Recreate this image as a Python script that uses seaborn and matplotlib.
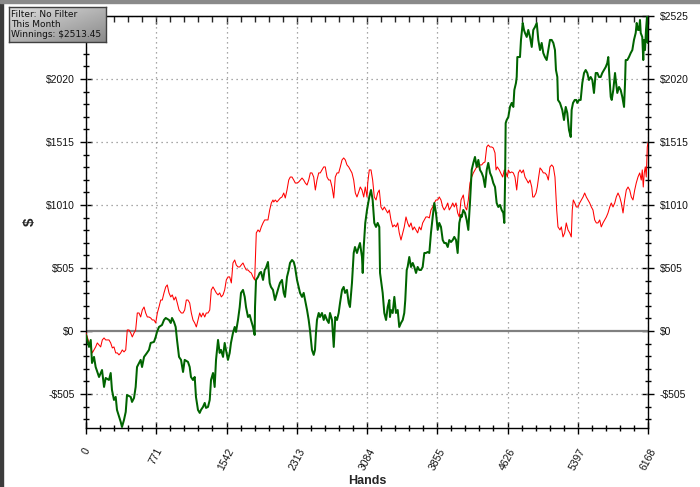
import numpy as np
import pandas as pd
import matplotlib
matplotlib.use("Agg")
import matplotlib.pyplot as plt
import seaborn as sns
from matplotlib.ticker import MultipleLocator, FixedLocator, FuncFormatter
from matplotlib.colors import LinearSegmentedColormap
from matplotlib.patches import Rectangle

# ---------------- data ----------------
won_hands = [0, 33, 52, 66, 88, 106, 143, 176, 198, 216, 252, 271, 285, 307, 326, 340, 381, 395, 417, 436,
             450, 491, 505, 527, 545, 560, 600, 615, 637, 669, 691, 710, 746, 765, 779, 801, 834, 856, 875, 911,
             930, 944, 966, 984, 999, 1021, 1043, 1065, 1083, 1119, 1138, 1152, 1174, 1193, 1207, 1229, 1248, 1262, 1284, 1303,
             1317, 1339, 1358, 1372, 1394, 1412, 1427, 1449, 1467, 1482, 1504, 1522, 1536, 1558, 1577, 1591, 1613, 1632, 1646, 1668,
             1687, 1701, 1723, 1742, 1756, 1778, 1797, 1811, 1833, 1851, 1855, 1866, 1888, 1906, 1921, 1943, 1961, 1975, 1997, 2016,
             2030, 2052, 2074, 2096, 2115, 2129, 2151, 2170, 2184, 2206, 2225, 2239, 2261, 2280, 2294, 2316, 2334, 2349, 2371, 2389,
             2404, 2426, 2444, 2458, 2469, 2480, 2499, 2513, 2524, 2535, 2554, 2568, 2590, 2609, 2623, 2645, 2664, 2678, 2700, 2719,
             2730, 2736, 2755, 2773, 2788, 2810, 2828, 2843, 2864, 2883, 2897, 2919, 2938, 2952, 2974, 2993, 3007, 3029, 3037, 3048,
             3065, 3084, 3109, 3128, 3146, 3164, 3183, 3201, 3219, 3227, 3237, 3256, 3274, 3293, 3311, 3329, 3336, 3347, 3366, 3384,
             3402, 3421, 3438, 3457, 3476, 3493, 3504, 3520, 3530, 3548, 3567, 3586, 3603, 3622, 3640, 3658, 3677, 3695, 3713, 3731,
             3750, 3768, 3786, 3805, 3823, 3841, 3860, 3877, 3896, 3915, 3932, 3951, 3970, 3987, 4006, 4025, 4042, 4061, 4079, 4097,
             4116, 4123, 4141, 4160, 4178, 4196, 4214, 4233, 4251, 4269, 4288, 4306, 4324, 4343, 4360, 4379, 4398, 4415, 4434, 4453,
             4470, 4489, 4507, 4525, 4544, 4562, 4580, 4591, 4599, 4606, 4617, 4635, 4653, 4672, 4690, 4701, 4719, 4727, 4734, 4763,
             4774, 4793, 4807, 4818, 4837, 4854, 4873, 4892, 4909, 4928, 4947, 4964, 4983, 5001, 5019, 5037, 5056, 5074, 5092, 5111,
             5129, 5147, 5158, 5173, 5180, 5202, 5227, 5246, 5265, 5282, 5301, 5320, 5330, 5345, 5364, 5381, 5392, 5411, 5429, 5447,
             5466, 5484, 5502, 5520, 5539, 5557, 5575, 5594, 5612, 5630, 5649, 5666, 5685, 5704, 5721, 5732, 5740, 5759, 5770, 5787,
             5806, 5814, 5831, 5850, 5868, 5886, 5905, 5916, 5923, 5941, 5959, 5978, 5996, 6014, 6033, 6044, 6058, 6069, 6080, 6088,
             6105, 6116, 6124, 6135, 6146, 6157, 6165, 6168]
won_dollars = [-32, -128, -72, -257, -208, -289, -369, -313, -449, -377, -393, -337, -473, -553, -529, -633, -729, -770, -713, -649,
               -513, -529, -569, -537, -449, -289, -232, -289, -208, -176, -152, -96, -88, -48, -8, 32, 48, 88, 104, 88,
               64, 104, 72, 32, -72, -208, -232, -329, -232, -248, -289, -369, -393, -369, -529, -633, -657, -633, -609, -577,
               -617, -609, -553, -393, -337, -449, -232, -72, -176, -152, -208, -96, -152, -232, -176, -96, -16, 32, -8, 88,
               192, 305, 329, 273, 192, 112, 128, 88, 32, -32, 192, 409, 433, 465, 473, 409, 489, 505, 553, 385,
               353, 329, 248, 305, 353, 385, 409, 305, 273, 433, 489, 545, 569, 553, 513, 409, 353, 305, 273, 305,
               248, 168, 88, 8, -72, -152, -192, -152, -16, 88, 144, 112, 144, 88, 128, 88, 64, 144, 88, -128,
               32, 112, 88, 144, 224, 329, 353, 305, 329, 224, 192, 385, 625, 673, 625, 673, 705, 593, 465, 673,
               866, 970, 1074, 1130, 1050, 866, 834, 866, 834, 465, 409, 305, 144, 88, 192, 248, 112, 168, 144, 273,
               144, 168, 32, 64, 88, 144, 248, 489, 513, 593, 513, 545, 513, 465, 513, 489, 489, 513, 625, 625,
               633, 625, 786, 914, 1026, 946, 810, 866, 834, 729, 705, 705, 673, 729, 713, 729, 754, 729, 625, 866,
               930, 914, 970, 946, 890, 810, 1026, 1291, 1347, 1395, 1315, 1371, 1291, 1267, 1234, 1154, 1291, 1347, 1267, 1234,
               1186, 1154, 1026, 994, 1010, 970, 946, 866, 1186, 1667, 1691, 1715, 1796, 1828, 1796, 1932, 1988, 2036, 2196, 2196,
               2333, 2469, 2413, 2389, 2357, 2413, 2357, 2277, 2413, 2437, 2469, 2333, 2252, 2309, 2228, 2196, 2172, 2252, 2333, 2333,
               2309, 2252, 2092, 2036, 1852, 1828, 1772, 1691, 1796, 1748, 1611, 1555, 1772, 1828, 1852, 1852, 1828, 1852, 1852, 1988,
               2068, 2092, 2068, 2012, 2036, 2012, 1908, 2068, 2068, 2036, 2036, 2068, 2092, 2116, 2148, 2196, 2092, 1876, 1852, 1932,
               2068, 2012, 1908, 1956, 1932, 1876, 1796, 1988, 2172, 2172, 2196, 2228, 2252, 2333, 2389, 2469, 2413, 2413, 2493, 2389,
               2357, 2172, 2333, 2252, 2413, 2517, 2309, 2513.45]

ev_hands = [0, 14, 33, 52, 69, 88, 106, 124, 143, 161, 179, 198, 216, 234, 252, 271, 289, 307, 326, 344,
            362, 381, 398, 417, 436, 453, 472, 491, 508, 527, 545, 563, 582, 600, 618, 637, 655, 673, 691, 710,
            728, 746, 765, 783, 801, 820, 837, 856, 875, 892, 911, 930, 947, 966, 984, 1002, 1021, 1046, 1065, 1083,
            1101, 1119, 1138, 1156, 1174, 1193, 1211, 1229, 1248, 1265, 1284, 1303, 1320, 1339, 1358, 1375, 1394, 1412, 1430, 1449,
            1467, 1485, 1504, 1522, 1540, 1558, 1577, 1595, 1613, 1632, 1649, 1668, 1687, 1704, 1723, 1742, 1759, 1778, 1797, 1814,
            1833, 1851, 1869, 1888, 1906, 1924, 1943, 1961, 1979, 1997, 2016, 2034, 2052, 2060, 2078, 2096, 2115, 2133, 2151, 2170,
            2187, 2206, 2225, 2242, 2261, 2280, 2297, 2316, 2334, 2352, 2371, 2389, 2407, 2426, 2444, 2462, 2480, 2499, 2517, 2535,
            2554, 2571, 2590, 2609, 2626, 2645, 2664, 2681, 2700, 2719, 2736, 2755, 2773, 2791, 2810, 2828, 2846, 2864, 2883, 2901,
            2919, 2938, 2956, 2974, 2993, 3010, 3029, 3048, 3065, 3084, 3092, 3109, 3128, 3146, 3164, 3183, 3201, 3219, 3237, 3256,
            3274, 3293, 3311, 3329, 3347, 3366, 3384, 3402, 3421, 3438, 3457, 3476, 3493, 3512, 3530, 3548, 3567, 3586, 3603, 3622,
            3640, 3658, 3677, 3695, 3713, 3731, 3750, 3768, 3786, 3805, 3823, 3841, 3860, 3877, 3896, 3915, 3932, 3951, 3970, 3987,
            4006, 4025, 4042, 4061, 4079, 4097, 4116, 4141, 4160, 4178, 4196, 4214, 4233, 4251, 4269, 4288, 4306, 4324, 4343, 4360,
            4379, 4398, 4415, 4434, 4453, 4470, 4489, 4500, 4514, 4536, 4551, 4573, 4591, 4610, 4624, 4635, 4653, 4672, 4690, 4708,
            4727, 4745, 4763, 4782, 4800, 4818, 4837, 4854, 4873, 4892, 4903, 4917, 4939, 4953, 4968, 4983, 5001, 5019, 5037, 5056,
            5074, 5092, 5111, 5129, 5147, 5158, 5166, 5180, 5202, 5217, 5235, 5254, 5271, 5290, 5309, 5326, 5337, 5348, 5364, 5381,
            5400, 5418, 5436, 5455, 5473, 5491, 5509, 5528, 5546, 5564, 5583, 5601, 5619, 5638, 5655, 5674, 5693, 5711, 5729, 5748,
            5765, 5784, 5803, 5820, 5839, 5858, 5875, 5894, 5912, 5930, 5949, 5967, 5985, 6003, 6022, 6039, 6058, 6077, 6094, 6105,
            6116, 6127, 6138, 6149, 6160, 6168]
ev_dollars = [-16, -48, -96, -128, -176, -152, -128, -96, -112, -128, -72, -56, -72, -72, -72, -96, -136, -128, -176, -176,
              -192, -176, -152, -168, -152, 8, 8, -16, -48, -16, 8, 144, 144, 112, 168, 192, 144, 112, 112, 104,
              88, 88, 64, 144, 192, 248, 248, 305, 353, 369, 305, 273, 289, 248, 273, 224, 168, 144, 144, 168,
              248, 248, 224, 144, 88, 64, 32, 88, 144, 112, 144, 112, 144, 144, 168, 329, 353, 329, 305, 289,
              305, 273, 289, 329, 409, 433, 433, 385, 545, 569, 529, 513, 513, 529, 545, 513, 489, 489, 473, 465,
              433, 409, 786, 810, 794, 834, 866, 890, 890, 890, 970, 1026, 1050, 1034, 1050, 1034, 1050, 1066, 1074, 1106,
              1066, 1130, 1210, 1234, 1234, 1210, 1186, 1186, 1194, 1210, 1226, 1210, 1186, 1170, 1210, 1267, 1267, 1234, 1130, 1210,
              1267, 1267, 1291, 1315, 1315, 1234, 1210, 1210, 1154, 1066, 1234, 1267, 1267, 1315, 1371, 1387, 1371, 1331, 1315, 1291,
              1267, 1210, 1106, 1074, 1114, 1154, 1130, 1074, 1154, 1074, 1186, 1291, 1291, 1210, 1074, 1050, 1106, 1130, 994, 970,
              994, 970, 946, 970, 890, 834, 850, 834, 866, 786, 729, 786, 834, 914, 866, 834, 866, 810, 834, 810,
              786, 834, 810, 866, 890, 914, 914, 906, 970, 994, 1026, 1050, 1050, 1074, 1050, 994, 970, 994, 1026, 970,
              994, 1026, 994, 1026, 946, 914, 1050, 1090, 994, 970, 1050, 1186, 1234, 1267, 1291, 1315, 1315, 1331, 1331, 1347,
              1355, 1475, 1491, 1475, 1475, 1467, 1427, 1291, 1315, 1291, 1267, 1234, 1291, 1267, 1234, 1291, 1267, 1275, 1267, 1234,
              1130, 1267, 1291, 1267, 1291, 1234, 1210, 1186, 1210, 1154, 1074, 1074, 1106, 1154, 1234, 1307, 1291, 1267, 1267, 1251,
              1210, 1315, 1331, 1315, 1234, 1074, 970, 834, 810, 834, 754, 786, 866, 810, 786, 754, 970, 1050, 1026, 994,
              994, 1026, 1050, 1074, 1106, 1074, 1050, 1026, 994, 970, 890, 866, 866, 890, 834, 866, 890, 914, 946, 994,
              1026, 994, 1026, 1074, 1106, 1074, 1026, 946, 1050, 1130, 1154, 1130, 1074, 1050, 1130, 1186, 1234, 1267, 1210, 1291,
              1154, 1267, 1315, 1234, 1475, 1507]

y_ticks = [-505, 0, 505, 1010, 1515, 2020, 2525]
x_ticks = [0, 771, 1542, 2313, 3084, 3855, 4626, 5397, 6168]
info_lines = ["Filter: No Filter", "This Month", "Winnings: $2513.45"]

won_df = pd.DataFrame({"Hands": won_hands, "$": won_dollars})
ev_df = pd.DataFrame({"Hands": ev_hands, "$": ev_dollars})

# ---------------- figure ----------------
sns.set_style("white")
plt.rcParams["font.family"] = ["Liberation Sans", "DejaVu Sans"]

fig = plt.figure(figsize=(7.0, 4.87), dpi=100)
fig.patch.set_facecolor("white")
ax = fig.add_axes([86 / 700, 1 - 428 / 487, 562 / 700, 412 / 487])

# grid
for xv in x_ticks:
    ax.axvline(xv, color="#8c8c8c", lw=0.9, ls=(0, (1, 3)), zorder=1)
for yv in y_ticks:
    if yv != 0:
        ax.axhline(yv, color="#8c8c8c", lw=0.9, ls=(0, (1, 3)), zorder=1)
ax.axhline(0, color="#808080", lw=1.6, zorder=1.5)

sns.lineplot(data=ev_df, x="Hands", y="$", ax=ax, color="#ff0000", lw=0.75,
             estimator=None, sort=False, zorder=3)
sns.lineplot(data=won_df, x="Hands", y="$", ax=ax, color="#006400", lw=1.45,
             estimator=None, sort=False, zorder=4)

ax.set_xlim(0, 6168)
ax.set_ylim(-778, 2525)

ax.xaxis.set_major_locator(FixedLocator(x_ticks))
ax.xaxis.set_minor_locator(MultipleLocator(771 / 5))
ax.yaxis.set_major_locator(FixedLocator(y_ticks))
ax.yaxis.set_minor_locator(MultipleLocator(101))
ax.yaxis.set_major_formatter(FuncFormatter(lambda v, p: f"-${-v:.0f}" if v < 0 else f"${v:.0f}"))

for s in ax.spines.values():
    s.set_color("black")
    s.set_linewidth(1.0)
    s.set_visible(True)

ax.tick_params(axis="both", which="major", direction="inout", length=8.5, width=1,
               color="black", labelsize=7.5, labelcolor="#111111")
ax.tick_params(axis="both", which="minor", direction="inout", length=4.5, width=1, color="black")
ax.tick_params(axis="y", which="both", left=True, right=True, labelleft=True, labelright=True, pad=4)
ax.tick_params(axis="x", which="both", bottom=True, top=False, pad=9)
plt.setp(ax.get_xticklabels(), rotation=62, ha="center", va="top")

# the top-left "$2525" label sits under the info box in the reference
fig.canvas.draw()
ax.yaxis.get_major_ticks()[-1].label1.set_visible(False)

top = ax.secondary_xaxis("top")
top.xaxis.set_major_locator(FixedLocator(x_ticks))
top.xaxis.set_minor_locator(MultipleLocator(771 / 5))
top.tick_params(axis="x", which="major", direction="in", length=6, width=1, labeltop=False)
top.tick_params(axis="x", which="minor", direction="in", length=4, width=1)
top.spines["top"].set_color("black")

ax.set_xlabel("Hands", fontsize=9, fontweight="bold")
ax.xaxis.set_label_coords(0.5, -0.115)
ax.set_ylabel("$", fontsize=11, fontweight="bold", rotation=90)
ax.yaxis.set_label_coords(-0.088, 0.5)

# window frame decoration
fig.patches.append(Rectangle((0, 0), 3 / 700, 1, transform=fig.transFigure,
                             color="#3c3c3c", zorder=0))
fig.patches.append(Rectangle((0, 1 - 2.5 / 487), 1, 2.5 / 487, transform=fig.transFigure,
                             color="#8a8a8a", zorder=0))

# info box with gradient
bax = fig.add_axes([9 / 700, 1 - 42 / 487, 97 / 700, 35 / 487], zorder=10)
grad = np.add.outer(np.linspace(0, 1, 30), np.linspace(0, 1, 80))
cmap = LinearSegmentedColormap.from_list("g", ["#dedede", "#8a8a8a"])
bax.imshow(grad, cmap=cmap, aspect="auto", extent=[0, 1, 0, 1], origin="upper")
bax.set_xticks([])
bax.set_yticks([])
for s in bax.spines.values():
    s.set_color("#404040")
    s.set_linewidth(1.0)
bax.text(0.025, 0.5, "\n".join(info_lines), transform=bax.transAxes, va="center", ha="left",
         fontsize=6.5, family=["DejaVu Sans"], linespacing=1.2, color="#111111")

fig.savefig("out.png", dpi=100)
